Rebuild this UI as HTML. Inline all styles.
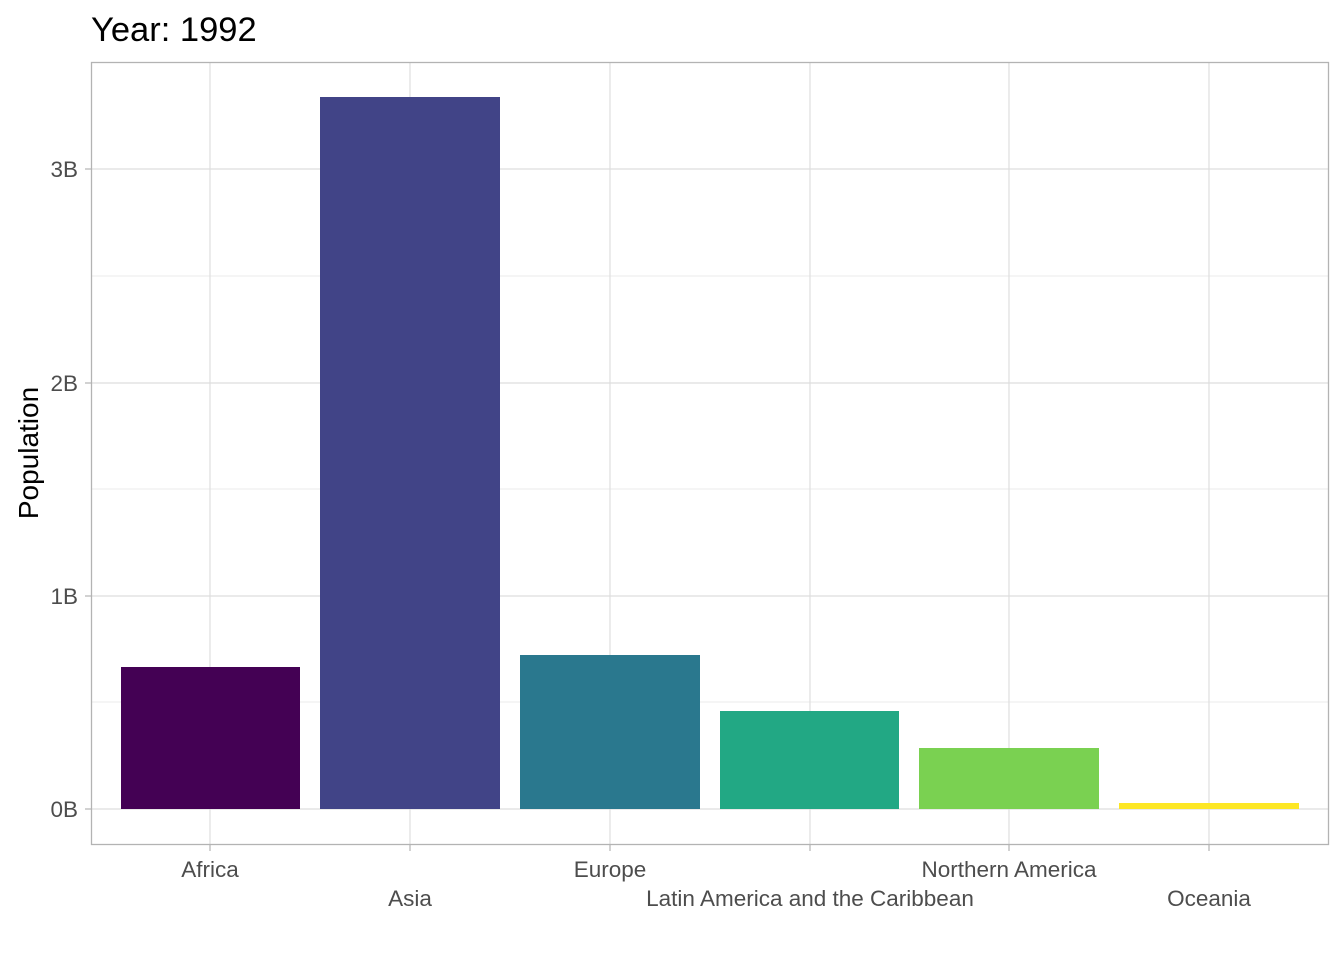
<!DOCTYPE html>
<html><head><style>body{margin:0;background:#fff}</style></head><body>
<svg width="1344" height="960" xmlns="http://www.w3.org/2000/svg" font-family="Liberation Sans, sans-serif">
<rect width="1344" height="960" fill="#fff"/>
<g stroke="#ebebeb" stroke-width="1">
<line x1="91" x2="1329" y1="702" y2="702"/><line x1="91" x2="1329" y1="489" y2="489"/><line x1="91" x2="1329" y1="276" y2="276"/>
</g>
<g stroke="#dedede" stroke-width="1.2">
<line x1="91" x2="1329" y1="809" y2="809"/><line x1="91" x2="1329" y1="596" y2="596"/><line x1="91" x2="1329" y1="383" y2="383"/><line x1="91" x2="1329" y1="169" y2="169"/>
<line y1="62" y2="845" x1="210" x2="210"/><line y1="62" y2="845" x1="410" x2="410"/><line y1="62" y2="845" x1="610" x2="610"/><line y1="62" y2="845" x1="810" x2="810"/><line y1="62" y2="845" x1="1009" x2="1009"/><line y1="62" y2="845" x1="1209" x2="1209"/>
</g>
<rect x="121" y="667" width="179" height="142" fill="#440154"/>
<rect x="320" y="97" width="180" height="712" fill="#414487"/>
<rect x="520" y="655" width="180" height="154" fill="#2a788e"/>
<rect x="720" y="711" width="179" height="98" fill="#22a884"/>
<rect x="919" y="748" width="180" height="61" fill="#7ad151"/>
<rect x="1119" y="803" width="180" height="6" fill="#fde725"/>
<rect x="91.5" y="62.5" width="1237" height="782" fill="none" stroke="#b3b3b3" stroke-width="1.3"/>
<g stroke="#b3b3b3" stroke-width="1.2">
<line x1="85" x2="91" y1="809" y2="809"/><line x1="85" x2="91" y1="596" y2="596"/><line x1="85" x2="91" y1="383" y2="383"/><line x1="85" x2="91" y1="169" y2="169"/>
<line y1="845" y2="851" x1="210" x2="210"/><line y1="845" y2="851" x1="410" x2="410"/><line y1="845" y2="851" x1="610" x2="610"/><line y1="845" y2="851" x1="810" x2="810"/><line y1="845" y2="851" x1="1009" x2="1009"/><line y1="845" y2="851" x1="1209" x2="1209"/>
</g>
<g fill="#4d4d4d" font-size="22.5" text-anchor="end">
<text x="78" y="817">0B</text><text x="78" y="604">1B</text><text x="78" y="391">2B</text><text x="78" y="177">3B</text>
</g>
<g fill="#4d4d4d" font-size="22.5" text-anchor="middle">
<text x="210" y="877">Africa</text><text x="410" y="906">Asia</text><text x="610" y="877">Europe</text>
<text x="810" y="906">Latin America and the Caribbean</text><text x="1009" y="877">Northern America</text><text x="1209" y="906">Oceania</text>
</g>
<text x="0" y="0" font-size="28" text-anchor="middle" transform="translate(38,453) rotate(-90)">Population</text>
<text x="91" y="41" font-size="34.5">Year: 1992</text>
</svg>
</body></html>
